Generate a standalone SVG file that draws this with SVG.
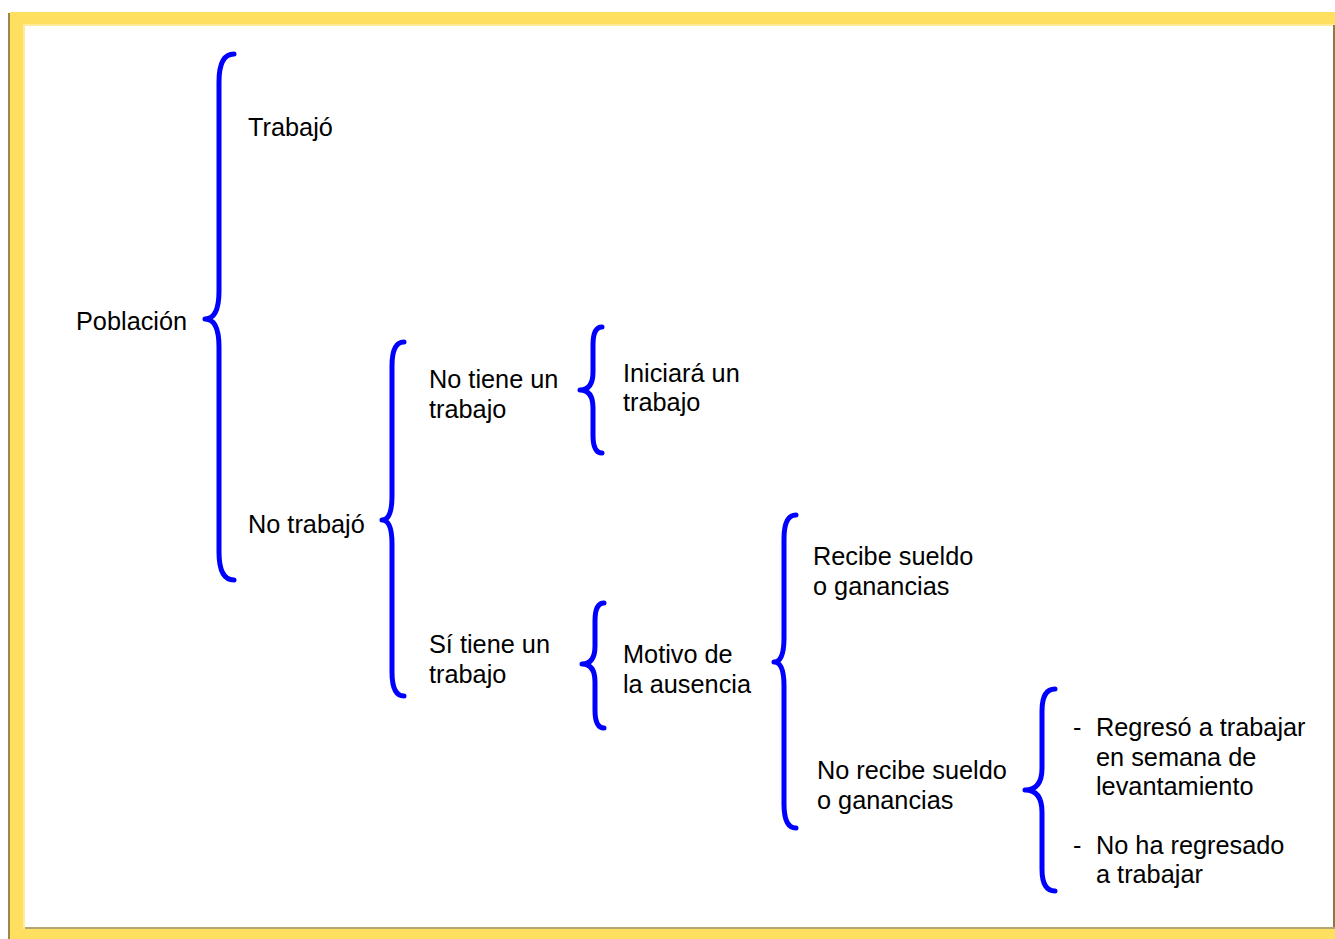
<svg xmlns="http://www.w3.org/2000/svg" width="1335" height="939" viewBox="0 0 1335 939">
<style>
text{font-family:"Liberation Sans",Arial,sans-serif;font-size:25.3px;fill:#000}
.br{fill:none;stroke:#0000FF;stroke-width:5;stroke-linecap:round;stroke-linejoin:round}
</style>
<rect x="0" y="0" width="1335" height="939" fill="#ffffff"/>
<g id="frame">
<rect x="8" y="13" width="2" height="926" fill="#9a8848"/>
<rect x="10" y="12" width="1325" height="927" fill="#FFDF5F"/>
<rect x="23" y="24" width="1312" height="3" fill="#FFEB9A"/>
<rect x="23" y="24" width="3" height="905" fill="#FFEB9A"/>
<rect x="25" y="26" width="1308" height="902" fill="#ffffff"/>
<rect x="1333" y="25" width="2" height="904" fill="#8f7a3a"/>
<rect x="25" y="927" width="1310" height="2" fill="#b3a470"/>
</g>
<g id="connectors">
<path class="br" d="M234,54 Q219,54 219,82 L219,291 Q219,319 205,319 Q219,319 219,347 L219,552 Q219,580 234,580"/>
<path class="br" d="M404,342 Q392,342 392,366 L392,496 Q392,520 382,520 Q392,520 392,544 L392,672 Q392,696 404,696"/>
<path class="br" d="M602,327 Q593,327 593,345 L593,372 Q593,390 580,390 Q593,390 593,408 L593,435 Q593,453 602,453"/>
<path class="br" d="M604,603 Q595,603 595,621 L595,646 Q595,664 582,664 Q595,664 595,682 L595,710 Q595,728 604,728"/>
<path class="br" d="M796,515 Q784,515 784,539 L784,638 Q784,662 774,662 Q784,662 784,686 L784,804 Q784,828 796,828"/>
<path class="br" d="M1055,689 Q1042,689 1042,711 L1042,768 Q1042,790 1025,790 Q1042,790 1042,812 L1042,869 Q1042,891 1055,891"/>
</g>
<g id="n-poblacion"><text x="76" y="330">Población</text></g>
<g id="n-trabajo"><text x="248" y="136">Trabajó</text></g>
<g id="n-notrabajo"><text x="248" y="533">No trabajó</text></g>
<g id="n-notiene"><text x="429" y="388">No tiene un</text><text x="429" y="418">trabajo</text></g>
<g id="n-sitiene"><text x="429" y="653">Sí tiene un</text><text x="429" y="683">trabajo</text></g>
<g id="n-iniciara"><text x="623" y="382">Iniciará un</text><text x="623" y="411">trabajo</text></g>
<g id="n-motivo"><text x="623" y="663">Motivo de</text><text x="623" y="693">la ausencia</text></g>
<g id="n-recibe"><text x="813" y="565">Recibe sueldo</text><text x="813" y="595">o ganancias</text></g>
<g id="n-norecibe"><text x="817" y="779">No recibe sueldo</text><text x="817" y="809">o ganancias</text></g>
<g id="n-regreso"><text x="1073" y="736">-</text><text x="1096" y="736">Regresó a trabajar</text><text x="1096" y="766">en semana de</text><text x="1096" y="795">levantamiento</text></g>
<g id="n-noregreso"><text x="1073" y="854">-</text><text x="1096" y="854">No ha regresado</text><text x="1096" y="883">a trabajar</text></g>
</svg>
